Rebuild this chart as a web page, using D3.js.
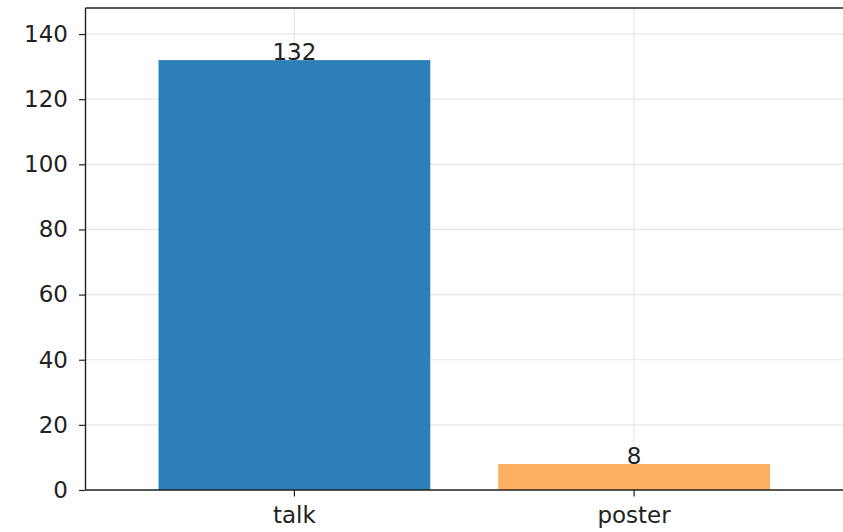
<!DOCTYPE html>
<html>
<head>
<meta charset="utf-8">
<script src="https://cdn.jsdelivr.net/npm/d3@7"></script>
<style>
  body { margin: 0; background: #fff; }
  svg text { font-family: "DejaVu Sans", sans-serif; }
</style>
</head>
<body>
<svg id="chart" width="843" height="532"></svg>
<script>
const categories = ["talk", "poster"];
const counts = [132, 8];
const barColors = ["#2c7fb8", "#fdae61"];
const yTicks = [0, 20, 40, 60, 80, 100, 120, 140];

const width = 843, height = 532;
const margin = { top: 8, right: 0, bottom: 42, left: 85.5 };
const fontSize = "23px";

const svg = d3.select("#chart");

const x = d3.scaleBand()
    .domain(categories)
    .range([margin.left, width - margin.right])
    .paddingInner(0.2)
    .paddingOuter(0.215);

const y = d3.scaleLinear()
    .domain([0, 148])
    .range([height - margin.bottom, margin.top]);

// grid lines
svg.append("g")
    .selectAll("line")
    .data(yTicks)
    .enter()
    .append("line")
        .attr("x1", margin.left)
        .attr("x2", width - margin.right)
        .attr("y1", d => y(d))
        .attr("y2", d => y(d))
        .attr("stroke", "#e6e6e6")
        .attr("stroke-width", 1.2);

svg.append("g")
    .selectAll("line")
    .data(categories)
    .enter()
    .append("line")
        .attr("x1", d => x(d) + x.bandwidth() / 2)
        .attr("x2", d => x(d) + x.bandwidth() / 2)
        .attr("y1", margin.top)
        .attr("y2", height - margin.bottom)
        .attr("stroke", "#e6e6e6")
        .attr("stroke-width", 1.2);

// bars
svg.append("g")
    .selectAll("rect")
    .data(categories)
    .enter()
    .append("rect")
        .attr("x", d => x(d))
        .attr("y", (d, i) => y(counts[i]))
        .attr("width", x.bandwidth())
        .attr("height", (d, i) => y(0) - y(counts[i]))
        .attr("fill", (d, i) => barColors[i]);

// value labels
svg.append("g")
    .selectAll("text")
    .data(categories)
    .enter()
    .append("text")
        .attr("x", d => x(d) + x.bandwidth() / 2)
        .attr("y", (d, i) => y(counts[i]))
        .attr("text-anchor", "middle")
        .style("font-size", fontSize)
        .attr("fill", "#222")
        .text((d, i) => counts[i]);

// axes
const yAxis = d3.axisLeft(y).tickValues(yTicks).tickSize(6.5).tickPadding(11);
svg.append("g")
    .attr("transform", `translate(${margin.left},0)`)
    .call(yAxis)
    .call(g => g.select(".domain").remove())
    .call(g => g.selectAll("text").style("font-size", fontSize).attr("fill", "#222"))
    .call(g => g.selectAll("line").attr("stroke", "#222").attr("stroke-width", 1.2));

const xAxis = d3.axisBottom(x).tickSize(6.5).tickPadding(10);
svg.append("g")
    .attr("transform", `translate(0,${height - margin.bottom})`)
    .call(xAxis)
    .call(g => g.select(".domain").remove())
    .call(g => g.selectAll("text").style("font-size", fontSize).attr("fill", "#222"))
    .call(g => g.selectAll("line").attr("stroke", "#222").attr("stroke-width", 1.2));

// spines
svg.append("line")
    .attr("x1", margin.left).attr("x2", margin.left)
    .attr("y1", margin.top).attr("y2", height - margin.bottom)
    .attr("stroke", "#222").attr("stroke-width", 1.4);
svg.append("line")
    .attr("x1", margin.left).attr("x2", width)
    .attr("y1", height - margin.bottom).attr("y2", height - margin.bottom)
    .attr("stroke", "#222").attr("stroke-width", 1.4);
svg.append("line")
    .attr("x1", margin.left).attr("x2", width)
    .attr("y1", margin.top).attr("y2", margin.top)
    .attr("stroke", "#222").attr("stroke-width", 1.4);
</script>
</body>
</html>
